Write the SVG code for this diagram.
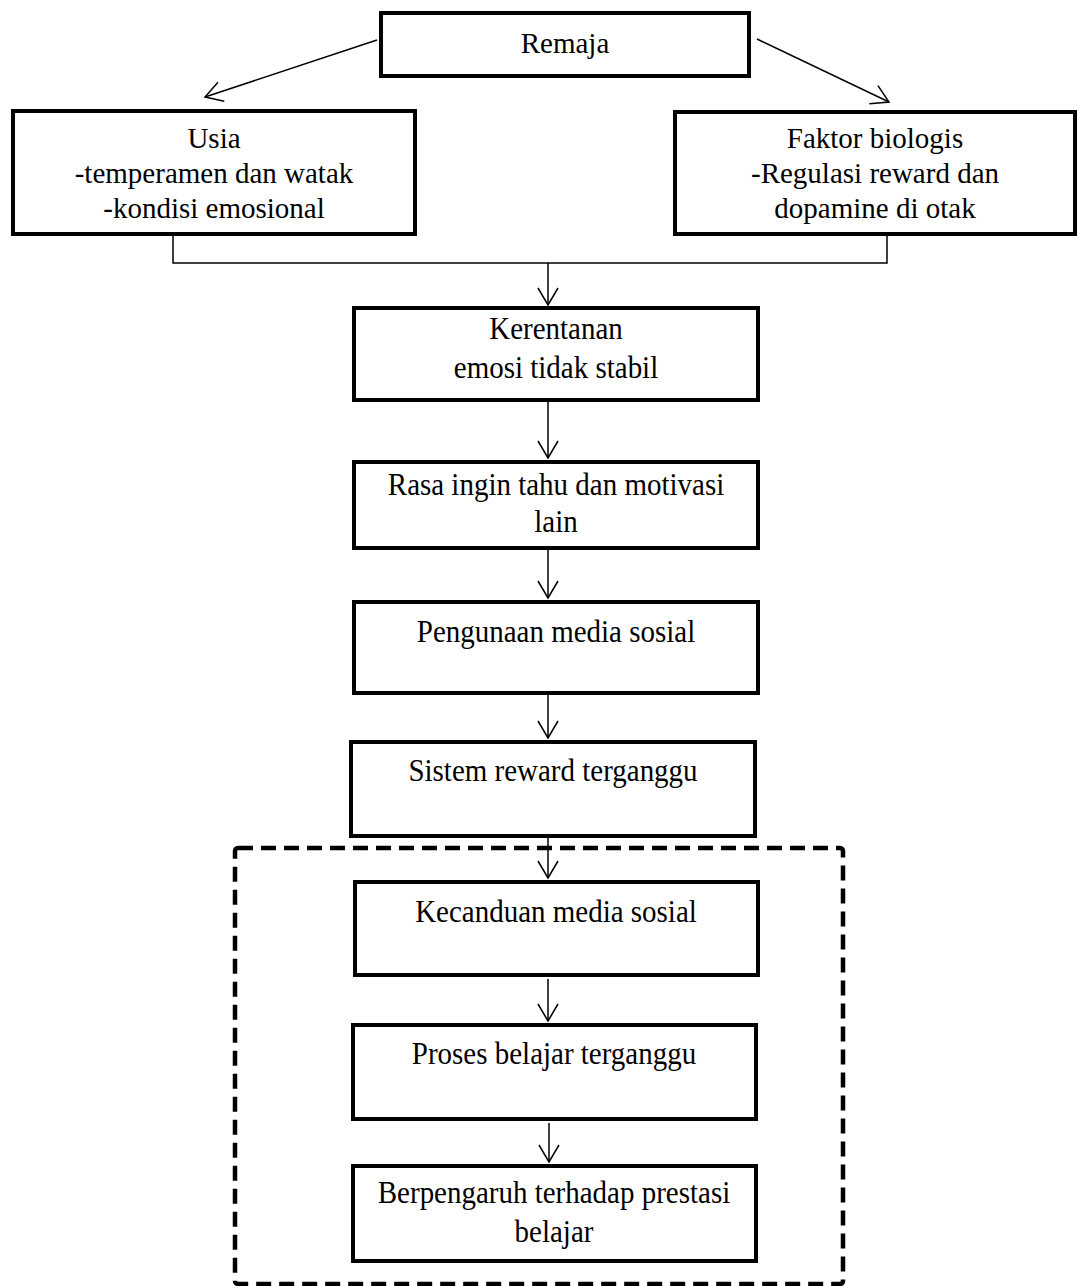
<svg xmlns="http://www.w3.org/2000/svg" width="1079" height="1286" viewBox="0 0 1079 1286">
<defs>
<style>
.box{fill:#fff;stroke:#000;stroke-width:4}
.t{font-family:'Liberation Serif','Tinos','Times New Roman','DejaVu Serif',serif;font-size:29px;fill:#000;text-anchor:middle}
.c{fill:none;stroke:#000;stroke-width:1.5}
.dash{fill:none;stroke:#000;stroke-width:4.5;stroke-dasharray:15 8}
</style>
<marker id="arr" markerUnits="userSpaceOnUse" viewBox="0 0 20 22" refX="18" refY="11" markerWidth="20" markerHeight="22" orient="auto">
<path d="M1,1 L18,11 L1,21" fill="none" stroke="#000" stroke-width="1.5"/>
</marker>
</defs>
<rect width="1079" height="1286" fill="#fff"/>
<g id="group-box">
<rect class="dash" x="235" y="848" width="608" height="436" rx="3"/>
</g>
<g id="connectors">
<line class="c" x1="377" y1="40" x2="205" y2="97" marker-end="url(#arr)"/>
<line class="c" x1="757" y1="39" x2="889" y2="102" marker-end="url(#arr)"/>
<polyline class="c" points="173,236 173,263 887,263 887,236"/>
<line class="c" x1="548" y1="263" x2="548" y2="305" marker-end="url(#arr)"/>
<line class="c" x1="548" y1="402" x2="548" y2="458" marker-end="url(#arr)"/>
<line class="c" x1="548" y1="550" x2="548" y2="598" marker-end="url(#arr)"/>
<line class="c" x1="548" y1="695" x2="548" y2="738" marker-end="url(#arr)"/>
<line class="c" x1="548" y1="838" x2="548" y2="878" marker-end="url(#arr)"/>
<line class="c" x1="548" y1="979" x2="548" y2="1021" marker-end="url(#arr)"/>
<line class="c" x1="549" y1="1123" x2="549" y2="1162" marker-end="url(#arr)"/>
</g>
<g id="remaja">
<rect class="box" x="381" y="13" width="368" height="63"/>
<text class="t" x="565" y="53">Remaja</text>
</g>
<g id="usia">
<rect class="box" x="13" y="111" width="402" height="123"/>
<text class="t" x="214" y="148">Usia</text>
<text class="t" x="214" y="183">-temperamen dan watak</text>
<text class="t" x="214" y="218">-kondisi emosional</text>
</g>
<g id="faktor-biologis">
<rect class="box" x="675" y="112" width="400" height="122"/>
<text class="t" x="875" y="148">Faktor biologis</text>
<text class="t" x="875" y="183">-Regulasi reward dan</text>
<text class="t" x="875" y="218">dopamine di otak</text>
</g>
<g id="kerentanan">
<rect class="box" x="354" y="308" width="404" height="92"/>
<text class="t" transform="translate(556,339) scale(1,1.12)">Kerentanan</text>
<text class="t" transform="translate(556,378) scale(1,1.12)">emosi tidak stabil</text>
</g>
<g id="rasa-ingin-tahu">
<rect class="box" x="354" y="462" width="404" height="86"/>
<text class="t" transform="translate(556,495) scale(1,1.12)">Rasa ingin tahu dan motivasi</text>
<text class="t" transform="translate(556,532) scale(1,1.12)">lain</text>
</g>
<g id="pengunaan">
<rect class="box" x="354" y="602" width="404" height="91"/>
<text class="t" transform="translate(556,642) scale(1,1.12)">Pengunaan media sosial</text>
</g>
<g id="sistem-reward">
<rect class="box" x="351" y="742" width="404" height="94"/>
<text class="t" transform="translate(553,781) scale(1,1.12)">Sistem reward terganggu</text>
</g>
<g id="kecanduan">
<rect class="box" x="355" y="882" width="403" height="93"/>
<text class="t" transform="translate(556,922) scale(1,1.12)">Kecanduan media sosial</text>
</g>
<g id="proses-belajar">
<rect class="box" x="353" y="1025" width="403" height="94"/>
<text class="t" transform="translate(554,1064) scale(1,1.12)">Proses belajar terganggu</text>
</g>
<g id="prestasi">
<rect class="box" x="353" y="1166" width="403" height="95"/>
<text class="t" transform="translate(554,1203) scale(1,1.12)">Berpengaruh terhadap prestasi</text>
<text class="t" transform="translate(554,1242) scale(1,1.12)">belajar</text>
</g>
</svg>
